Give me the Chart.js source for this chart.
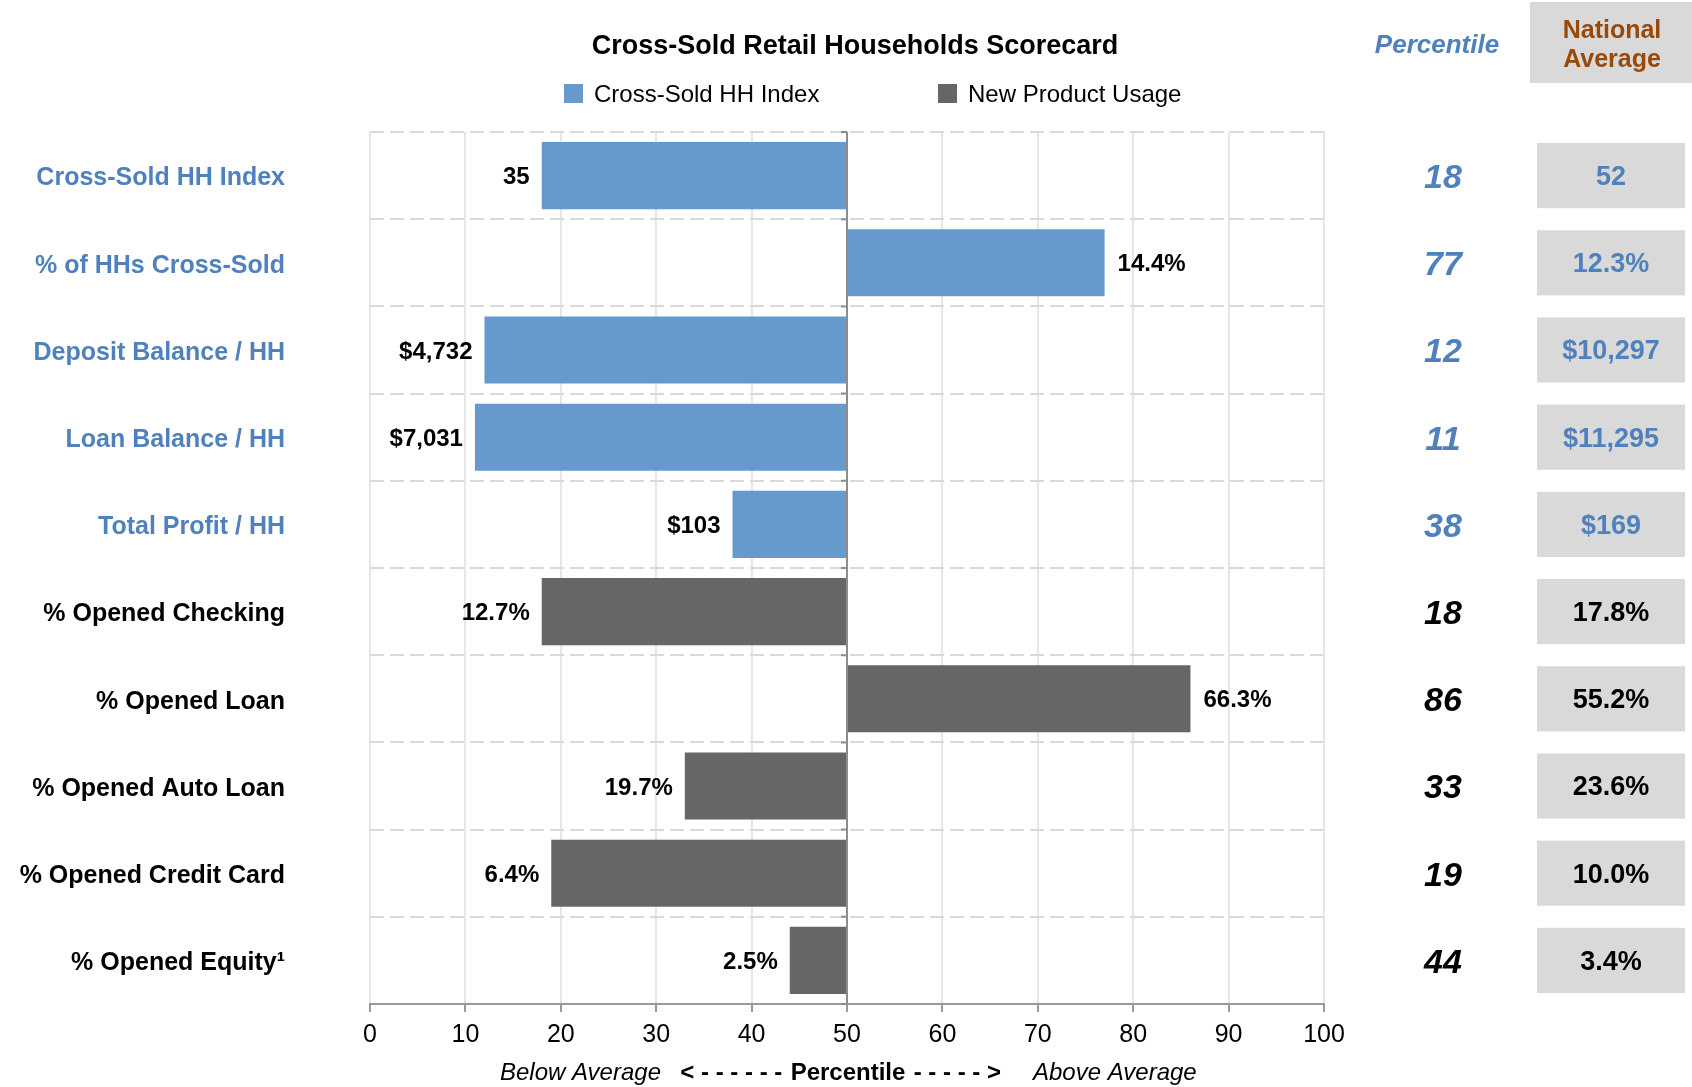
<!DOCTYPE html>
<html>
<head>
<meta charset="utf-8">
<title>Cross-Sold Retail Households Scorecard</title>
<script src="https://cdn.jsdelivr.net/npm/chart.js@4.4.0/dist/chart.umd.min.js"></script>
<style>
    html, body { margin: 0; padding: 0; background: #fff; }
    #wrap { width: 1692px; height: 1087px; position: relative; }
</style>
</head>
<body>
<div id="wrap"><canvas id="scorecard"></canvas></div>
<script>
// Metrics shown on the left, top to bottom
const metrics = [
    'Cross-Sold HH Index',
    '% of HHs Cross-Sold',
    'Deposit Balance / HH',
    'Loan Balance / HH',
    'Total Profit / HH',
    '% Opened Checking',
    '% Opened Loan',
    '% Opened Auto Loan',
    '% Opened Credit Card',
    '% Opened Equity\u00B9'
];

// Percentile for each metric (bar runs from the 50 line to this value)
const percentiles = [18, 77, 12, 11, 38, 18, 86, 33, 19, 44];

// Value printed at the end of each bar
const barLabels = ['35', '14.4%', '$4,732', '$7,031', '$103', '12.7%', '66.3%', '19.7%', '6.4%', '2.5%'];

// National average column
const nationalAvg = ['52', '12.3%', '$10,297', '$11,295', '$169', '17.8%', '55.2%', '23.6%', '10.0%', '3.4%'];

// Series names; the first 5 metrics belong to the first series
const seriesNames = ['Cross-Sold HH Index', 'New Product Usage'];
const firstSeriesCount = 5;

// Percentile axis
const axisMin = 0;
const axisMax = 100;
const axisStep = 10;
const midpoint = 50;

const FONT = "'Liberation Sans', Arial, Helvetica, sans-serif";
const BLUE_BAR = '#6699CC';
const GRAY_BAR = '#666666';
const BLUE_TEXT = '#4F81BD';
const BROWN_TEXT = '#984807';
const BOX_FILL = '#D9D9D9';

Chart.defaults.font.family = FONT;

// Floating bars from the midpoint to the percentile
const crossSoldData = percentiles.map((p, i) => i < firstSeriesCount ? [midpoint, p] : null);
const productData = percentiles.map((p, i) => i >= firstSeriesCount ? [midpoint, p] : null);

function isFirstGroup(i) {
    return i < firstSeriesCount;
}

// Everything that is not a plain bar: title, legend, side columns, labels
const scorecardPlugin = {
    id: 'scorecard',
    afterDatasetsDraw(chart) {
        const ctx = chart.ctx;
        const xScale = chart.scales.x;
        const yScale = chart.scales.y;
        const area = chart.chartArea;
        const x50 = xScale.getPixelForValue(midpoint);

        // center axis at 50 with small tick marks
        ctx.save();
        ctx.strokeStyle = '#8C8C8C';
        ctx.lineWidth = 2;
        ctx.beginPath();
        ctx.moveTo(x50, area.top);
        ctx.lineTo(x50, area.bottom);
        const band = yScale.getPixelForValue(1) - yScale.getPixelForValue(0);
        for (let i = 0; i <= metrics.length; i++) {
            const yb = yScale.getPixelForValue(0) - band / 2 + i * band;
            ctx.moveTo(x50 - 6, yb);
            ctx.lineTo(x50, yb);
        }
        ctx.stroke();

        // values at the end of each bar
        ctx.fillStyle = '#000';
        ctx.font = 'bold 24px ' + FONT;
        ctx.textBaseline = 'middle';
        percentiles.forEach((p, i) => {
            const xEnd = xScale.getPixelForValue(p);
            const y = yScale.getPixelForValue(i) + 2;
            if (p < midpoint) {
                ctx.textAlign = 'right';
                ctx.fillText(barLabels[i], xEnd - 12, y);
            } else {
                ctx.textAlign = 'left';
                ctx.fillText(barLabels[i], xEnd + 13, y);
            }
        });
        ctx.restore();
    },
    afterDraw(chart) {
        const ctx = chart.ctx;
        const xScale = chart.scales.x;
        const yScale = chart.scales.y;
        const x50 = xScale.getPixelForValue(midpoint);

        ctx.save();
        ctx.textBaseline = 'middle';

        // title
        ctx.fillStyle = '#000';
        ctx.textAlign = 'center';
        ctx.font = 'bold 27px ' + FONT;
        ctx.fillText('Cross-Sold Retail Households Scorecard', 855, 47);

        // legend
        const legendItems = [
            { x: 564, color: BLUE_BAR, text: seriesNames[0] },
            { x: 938, color: GRAY_BAR, text: seriesNames[1] }
        ];
        ctx.font = '24px ' + FONT;
        ctx.textAlign = 'left';
        legendItems.forEach(item => {
            ctx.fillStyle = item.color;
            ctx.fillRect(item.x, 84, 19, 19);
            ctx.fillStyle = '#000';
            ctx.fillText(item.text, item.x + 30, 95);
        });

        // column headers
        ctx.textAlign = 'center';
        ctx.fillStyle = BLUE_TEXT;
        ctx.font = 'italic bold 26px ' + FONT;
        ctx.fillText('Percentile', 1437, 46);

        ctx.fillStyle = BOX_FILL;
        ctx.fillRect(1530, 2, 162, 81);
        ctx.fillStyle = BROWN_TEXT;
        ctx.font = 'bold 25px ' + FONT;
        ctx.fillText('National', 1612, 31);
        ctx.fillText('Average', 1612, 60);

        // side columns, one row per metric
        const meta = chart.getDatasetMeta(0);
        metrics.forEach((m, i) => {
            const y = yScale.getPixelForValue(i);
            const bar = meta.data[i] || chart.getDatasetMeta(1).data[i];
            const h = bar ? bar.height : 66;
            const color = isFirstGroup(i) ? BLUE_TEXT : '#000';

            ctx.fillStyle = color;
            ctx.font = 'italic bold 34px ' + FONT;
            ctx.fillText(String(percentiles[i]), 1443, y + 3);

            ctx.fillStyle = BOX_FILL;
            ctx.fillRect(1537, y - h / 2 + 1, 148, h - 2);
            ctx.fillStyle = color;
            ctx.font = 'bold 27px ' + FONT;
            ctx.fillText(nationalAvg[i], 1611, y + 2);
        });

        // percentile axis caption
        const capY = 1073;
        ctx.fillStyle = '#000';
        ctx.font = 'italic 24px ' + FONT;
        ctx.textAlign = 'right';
        ctx.fillText('Below Average', 661, capY);
        ctx.textAlign = 'left';
        ctx.fillText('Above Average', 1033, capY);
        ctx.font = 'bold 24px ' + FONT;
        ctx.textAlign = 'center';
        ctx.fillText('Percentile', x50 + 1, capY);
        ctx.textAlign = 'right';
        ctx.fillText('< - - - - - - ', x50 - 58, capY);
        ctx.textAlign = 'left';
        ctx.fillText(' - - - - - >', x50 + 60, capY);

        ctx.restore();
    }
};

const ctx = document.getElementById('scorecard').getContext('2d');
const scorecardChart = new Chart(ctx, {
    type: 'bar',
    data: {
        labels: metrics,
        datasets: [{
            label: seriesNames[0],
            data: crossSoldData,
            backgroundColor: BLUE_BAR,
            grouped: false,
            barPercentage: 0.77,
            categoryPercentage: 1.0
        }, {
            label: seriesNames[1],
            data: productData,
            backgroundColor: GRAY_BAR,
            grouped: false,
            barPercentage: 0.77,
            categoryPercentage: 1.0
        }]
    },
    options: {
        indexAxis: 'y',
        responsive: true,
        maintainAspectRatio: false,
        animation: false,
        layout: {
            padding: { top: 132, right: 368, left: 0, bottom: 0 }
        },
        plugins: {
            legend: { display: false },
            title: { display: false },
            tooltip: { enabled: false }
        },
        scales: {
            x: {
                min: axisMin,
                max: axisMax,
                ticks: {
                    stepSize: axisStep,
                    color: '#000',
                    padding: 8,
                    font: { size: 25 }
                },
                grid: {
                    color: '#E6E6E6',
                    lineWidth: 2,
                    tickColor: '#999999',
                    tickLength: 8,
                    tickWidth: 2
                },
                border: { color: '#999999', width: 2 },
                afterFit: function(scale) {
                    scale.height = 83;
                }
            },
            y: {
                ticks: {
                    color: function(c) {
                        return isFirstGroup(c.index) ? BLUE_TEXT : '#000';
                    },
                    padding: 85,
                    labelOffset: 3,
                    font: { size: 25, weight: 'bold' }
                },
                grid: {
                    color: '#D9D9D9',
                    lineWidth: 2,
                    drawTicks: false,
                    offset: true
                },
                border: { display: false, dash: [14, 6] },
                afterFit: function(scale) {
                    // fixed axis width; label padding must not push the plot edges
                    scale.width = 370;
                    scale.paddingTop = 0;
                    scale.paddingBottom = 0;
                }
            }
        }
    },
    plugins: [scorecardPlugin]
});
</script>
</body>
</html>
